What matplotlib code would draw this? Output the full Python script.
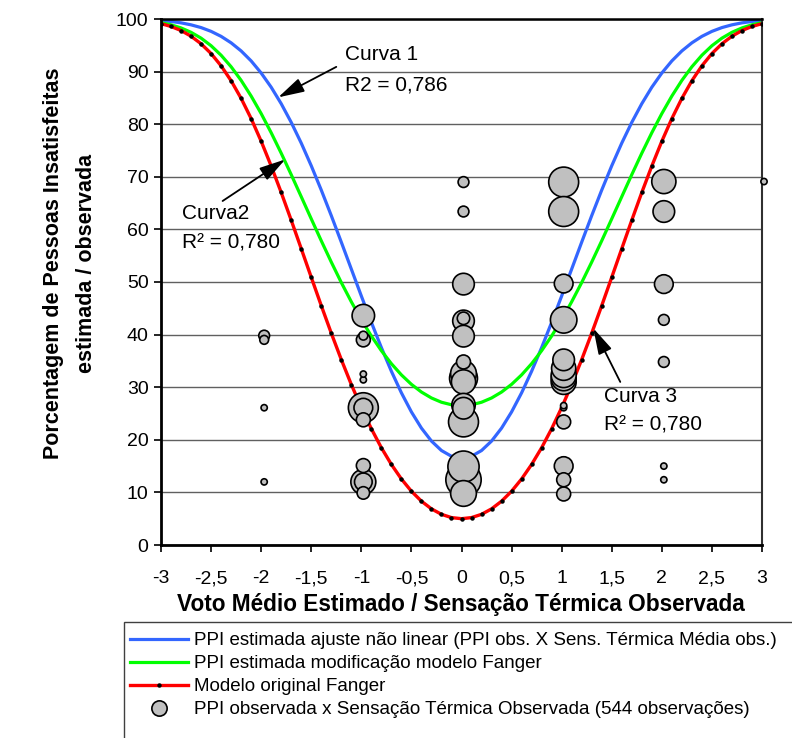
import numpy as np
import matplotlib
matplotlib.use('Agg')
import matplotlib.pyplot as plt
from matplotlib.lines import Line2D
from matplotlib.patches import Rectangle

plt.rcParams['font.family'] = ['Liberation Sans', 'DejaVu Sans']

# eixo x: voto medio estimado, passo 0,1
pmv = np.linspace(-3, 3, 61)

# Curva 1 - ajuste nao linear (azul)
ppd_ajuste = [99.71, 99.53, 99.27, 98.89, 98.37, 97.65, 96.70, 95.47, 93.93, 92.03,
              89.73, 87.03, 83.90, 80.35, 76.41, 72.10, 67.48, 62.62, 57.58, 52.46,
              47.34, 42.33, 37.53, 33.03, 28.93, 25.30, 22.22, 19.76, 17.96, 16.87,
              16.50,
              16.87, 17.96, 19.76, 22.22, 25.30, 28.93, 33.03, 37.53, 42.33, 47.34,
              52.46, 57.58, 62.62, 67.48, 72.10, 76.41, 80.35, 83.90, 87.03, 89.73,
              92.03, 93.93, 95.47, 96.70, 97.65, 98.37, 98.89, 99.27, 99.53, 99.71]

# Curva 2 - modificacao modelo Fanger (verde)
ppd_modif = [99.32, 98.90, 98.30, 97.47, 96.36, 94.92, 93.11, 90.92, 88.33, 85.35,
             82.02, 78.38, 74.49, 70.41, 66.22, 62.01, 57.84, 53.79, 49.90, 46.24,
             42.84, 39.73, 36.94, 34.47, 32.34, 30.54, 29.08, 27.95, 27.14, 26.66,
             26.50,
             26.66, 27.14, 27.95, 29.08, 30.54, 32.34, 34.47, 36.94, 39.73, 42.84,
             46.24, 49.90, 53.79, 57.84, 62.01, 66.22, 70.41, 74.49, 78.38, 82.02,
             85.35, 88.33, 90.92, 93.11, 94.92, 96.36, 97.47, 98.30, 98.90, 99.32]

# Curva 3 - modelo original Fanger (vermelho)
ppd_fanger = [99.12, 98.58, 97.81, 96.73, 95.29, 93.43, 91.10, 88.26, 84.91, 81.07,
              76.76, 72.05, 67.02, 61.75, 56.34, 50.90, 45.51, 40.27, 35.25, 30.51,
              26.12, 22.10, 18.49, 15.31, 12.55, 10.22, 8.33, 6.87, 5.83, 5.21,
              5.00,
              5.21, 5.83, 6.87, 8.33, 10.22, 12.55, 15.31, 18.49, 22.10, 26.12,
              30.51, 35.25, 40.27, 45.51, 50.90, 56.34, 61.75, 67.02, 72.05, 76.76,
              81.07, 84.91, 88.26, 91.10, 93.43, 95.29, 96.73, 97.81, 98.58, 99.12]

# PPI observada x sensacao termica observada (544 observacoes)
obs_x = [-1.97, -1.97, -1.97, -1.97,
         -0.98, -0.98, -0.98, -0.98, -0.98, -0.98, -0.98, -0.98, -0.98, -0.98, -0.98, -0.98,
         0.02, 0.02, 0.02, 0.02, 0.02, 0.02, 0.02, 0.02, 0.02, 0.02, 0.02, 0.02, 0.02, 0.02, 0.02, 0.02,
         1.02, 1.02, 1.02, 1.02, 1.02, 1.02, 1.02, 1.02, 1.02, 1.02, 1.02, 1.02, 1.02, 1.02, 1.02,
         2.02, 2.02, 2.02, 2.02, 2.02, 2.02, 2.02,
         3.02]
obs_y = [39.8, 39.0, 26.1, 12.0,
         43.6, 39.8, 39.0, 32.5, 31.4, 26.1, 26.1, 23.8, 15.1, 12.0, 12.0, 9.9,
         69.0, 63.4, 49.6, 43.1, 42.6, 39.7, 34.8, 32.6, 31.7, 31.0, 26.6, 26.0, 23.4, 14.9, 12.4, 9.8,
         69.0, 63.4, 49.7, 42.8, 35.2, 33.6, 32.3, 31.7, 31.0, 26.5, 26.1, 23.4, 15.0, 12.4, 9.7,
         69.1, 63.4, 49.6, 42.8, 34.8, 15.0, 12.4,
         69.1]
obs_n = [3, 2, 1, 1,
         13, 2, 5, 1, 1, 23, 9, 5, 5, 16, 8, 4,
         3, 3, 12, 4, 12, 12, 5, 17, 20, 15, 14, 12, 23, 25, 32, 17,
         23, 23, 9, 18, 12, 15, 16, 16, 16, 1, 1, 5, 9, 5, 5,
         15, 12, 9, 3, 3, 1, 1,
         1]

xtick_vals = [-3, -2.5, -2, -1.5, -1, -0.5, 0, 0.5, 1, 1.5, 2, 2.5, 3]
xtick_labels = ['-3', '-2,5', '-2', '-1,5', '-1', '-0,5', '0', '0,5', '1', '1,5', '2', '2,5', '3']
ytick_vals = [0, 10, 20, 30, 40, 50, 60, 70, 80, 90, 100]

legend_labels = ['PPI estimada ajuste não linear (PPI obs. X Sens. Térmica Média obs.)',
                 'PPI estimada modificação modelo Fanger',
                 'Modelo original Fanger',
                 'PPI observada x Sensação Térmica Observada (544 observações)']

blue = '#3366ff'
green = '#00ff00'
red = '#ff0000'
gray = '#c0c0c0'

fig = plt.figure(figsize=(7.92, 7.38), dpi=100)
ax = fig.add_axes([161/792, 1-545/738, 601/792, 526/738])

ax.set_xlim(-3, 3)
ax.set_ylim(0, 100)
ax.yaxis.grid(True, color='#606060', lw=1)
ax.set_axisbelow(True)

ax.plot(pmv, ppd_ajuste, color=blue, lw=2.3, zorder=2)
ax.plot(pmv, ppd_modif, color=green, lw=2.3, zorder=2)
ax.plot(pmv, ppd_fanger, color=red, lw=2.4, zorder=2)
ax.plot(pmv, ppd_fanger, ls='none', marker='o', ms=2.2, color='black', zorder=3)

# bolhas: maiores atras
order = np.argsort(obs_n)[::-1]
bx = np.array(obs_x)[order]
by = np.array(obs_y)[order]
bn = np.array(obs_n)[order]
ax.scatter(bx, by, s=20.2*bn, c=gray, edgecolors='black', linewidths=1.2,
           zorder=4, clip_on=False)

arrow = dict(arrowstyle='-|>,head_length=0.8,head_width=0.22', color='black',
             lw=1.3, shrinkA=0, shrinkB=0, mutation_scale=20)
ax.annotate('', xy=(-1.83, 85.1), xytext=(-1.25, 90.9), arrowprops=arrow, zorder=6)
ax.annotate('', xy=(-1.76, 73.3), xytext=(-2.385, 65.4), arrowprops=arrow, zorder=6)
ax.annotate('', xy=(1.316, 41.2), xytext=(1.585, 31.0), arrowprops=arrow, zorder=6)

ax.text(-1.166, 93.2, 'Curva 1', fontsize=15, va='center', zorder=6)
ax.text(-1.166, 87.5, 'R2 = 0,786', fontsize=15, va='center', zorder=6)
ax.text(-2.794, 63.1, 'Curva2', fontsize=15, va='center', zorder=6)
ax.text(-2.794, 57.4, 'R² = 0,780', fontsize=15, va='center', zorder=6)
ax.text(1.425, 28.3, 'Curva 3', fontsize=15, va='center', zorder=6)
ax.text(1.425, 22.8, 'R² = 0,780', fontsize=15, va='center', zorder=6)

ax.set_xticks(xtick_vals)
ax.set_xticklabels(xtick_labels)
ax.set_yticks(ytick_vals)
ax.tick_params(axis='both', direction='out', length=5, width=1.2, labelsize=14)
ax.tick_params(axis='x', pad=13)
ax.tick_params(axis='y', pad=4)

for s in ['left', 'bottom']:
    ax.spines[s].set_linewidth(2)
ax.spines['top'].set_linewidth(1.8)
ax.spines['right'].set_linewidth(1.5)
ax.spines['right'].set_color('#303030')

fig.text(461/792, 1-605/738, 'Voto Médio Estimado / Sensação Térmica Observada',
         ha='center', va='center', fontsize=16.3, weight='bold')
fig.text(70/792, 1-263/738, 'Porcentagem de Pessoas Insatisfeitas\nestimada / observada',
         rotation=90, ha='center', va='center', fontsize=15.5, weight='bold',
         multialignment='center', linespacing=1.7)

handles = [Line2D([], [], color=blue, lw=2.3),
           Line2D([], [], color=green, lw=2.3),
           Line2D([], [], color=red, lw=2.4, marker='o', ms=2.2, mfc='black', mec='black'),
           Line2D([], [], ls='none', marker='o', ms=11, mfc=gray, mec='black', mew=1.2)]
fig.legend(handles, legend_labels, loc='upper left', bbox_to_anchor=(130/792, 1-632/738),
           frameon=False, fontsize=13.5, handlelength=3.1, handletextpad=0.3,
           labelspacing=0.32, borderpad=0, borderaxespad=0)
fig.add_artist(Rectangle((124/792, -0.05), 1.0, 0.05 + 1 - 622/738,
                         transform=fig.transFigure, fill=False, ec='#404040', lw=1,
                         clip_on=False))

plt.savefig('out.png', dpi=100)
